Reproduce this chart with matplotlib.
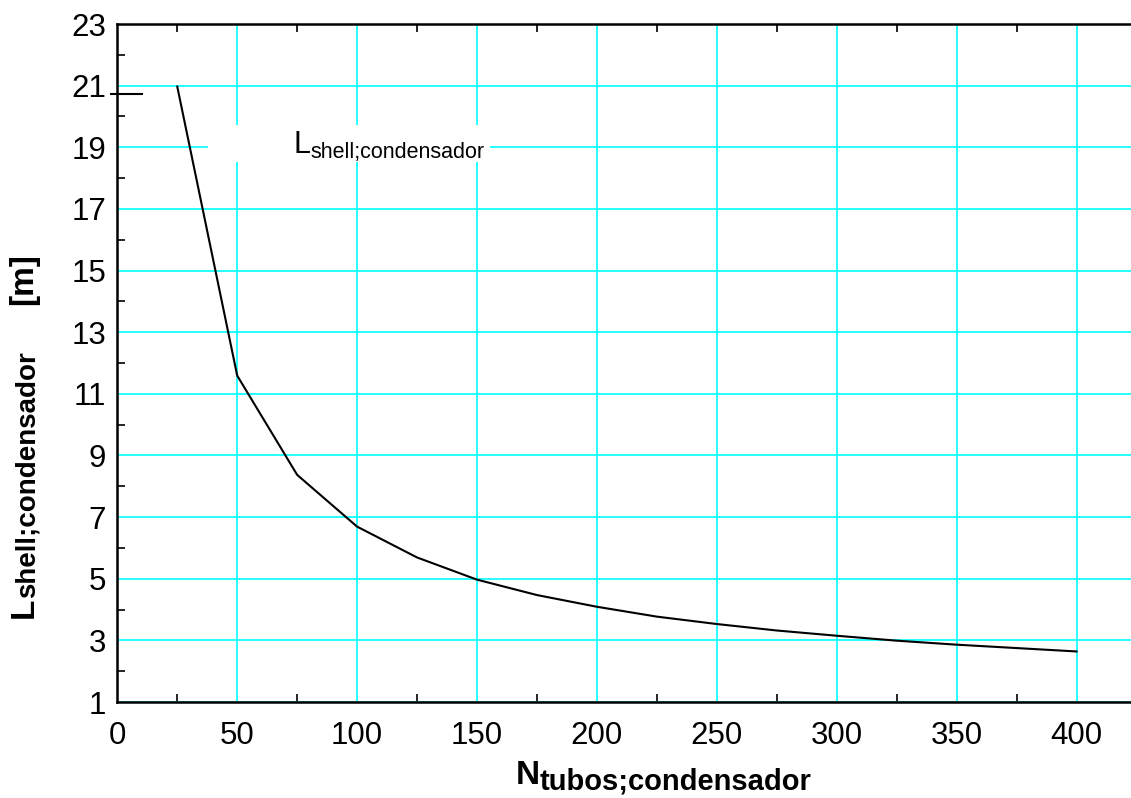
import numpy as np
import matplotlib
matplotlib.use("Agg")
import matplotlib.pyplot as plt
from matplotlib.patches import Rectangle
from matplotlib.ticker import MultipleLocator

# tube count vs. shell length of the condenser
n_tubos = [25, 50, 75, 100, 125, 150, 175, 200, 225, 250, 275, 300, 325, 350, 375, 400]
l_shell = [20.97, 11.59, 8.37, 6.69, 5.69, 4.97, 4.47, 4.09, 3.77, 3.53, 3.32, 3.15,
           2.99, 2.86, 2.75, 2.64]

x_ticks = np.arange(0, 401, 50)
y_ticks = np.arange(1, 24, 2)

W, H = 1131, 798
plt.rcParams["font.family"] = ["Liberation Sans", "DejaVu Sans"]

fig = plt.figure(figsize=(W / 100, H / 100), dpi=100)
ax = fig.add_axes([117.3 / W, 96 / H, 1019.2 / W, 678 / H])

ax.plot(n_tubos, l_shell, color="black", lw=1.5, zorder=3)

ax.set_xlim(0, 425)
ax.set_ylim(1, 23)
ax.set_xticks(x_ticks)
ax.set_yticks(y_ticks)
ax.xaxis.set_minor_locator(MultipleLocator(25))
ax.yaxis.set_minor_locator(MultipleLocator(2))
ax.grid(True, which="major", color="#00ffff", lw=1.2)
ax.tick_params(which="major", length=0, labelsize=22.5)
ax.tick_params(axis="x", which="major", pad=14)
ax.tick_params(axis="y", which="major", pad=8)
ax.tick_params(which="minor", direction="in", length=6, width=1.2,
               top=True, bottom=True, left=True, right=False)
for side in ["left", "bottom", "top"]:
    ax.spines[side].set_linewidth(1.8)
ax.spines["right"].set_visible(False)

# legend: white box over the grid, key line and label
ax.add_patch(Rectangle((0.089, 0.797), 0.277, 0.054, transform=ax.transAxes,
                       facecolor="white", edgecolor="none", zorder=2))
ax.plot([-0.006, 0.024], [0.897, 0.897], transform=ax.transAxes, color="black",
        lw=1.5, clip_on=False, zorder=4)
leg = ax.text(73.3, 18.82, "L", fontsize=22, ha="left", va="baseline", zorder=4)
ax.annotate("shell;condensador", xy=(1, 0), xycoords=leg, xytext=(0, 2),
            textcoords="offset pixels", fontsize=15.5, ha="left", va="baseline",
            zorder=4, annotation_clip=False)

# x axis label
xl = fig.text(516 / W, 1 - 784 / H, "N", fontsize=24, fontweight="bold",
              ha="left", va="baseline")
ax.annotate("tubos;condensador", xy=(1, 0), xycoords=xl, xytext=(0, 2),
            textcoords="offset pixels", fontsize=21, fontweight="bold",
            ha="left", va="baseline", annotation_clip=False)

# y axis label, rotated
yl = fig.text(32.3 / W, 1 - 618 / H, "L", fontsize=24, fontweight="bold",
              rotation=90, rotation_mode="anchor", ha="left", va="baseline")
ax.annotate("shell;condensador", xy=(1, 1), xycoords=yl, xytext=(1, 0),
            textcoords="offset pixels", fontsize=20, fontweight="bold",
            rotation=90, ha="right", va="bottom", annotation_clip=False)
fig.text(32.3 / W, 1 - 253 / H, "[m]", fontsize=24, fontweight="bold",
         rotation=90, rotation_mode="anchor", ha="right", va="baseline")

fig.savefig("out.png", dpi=100)
